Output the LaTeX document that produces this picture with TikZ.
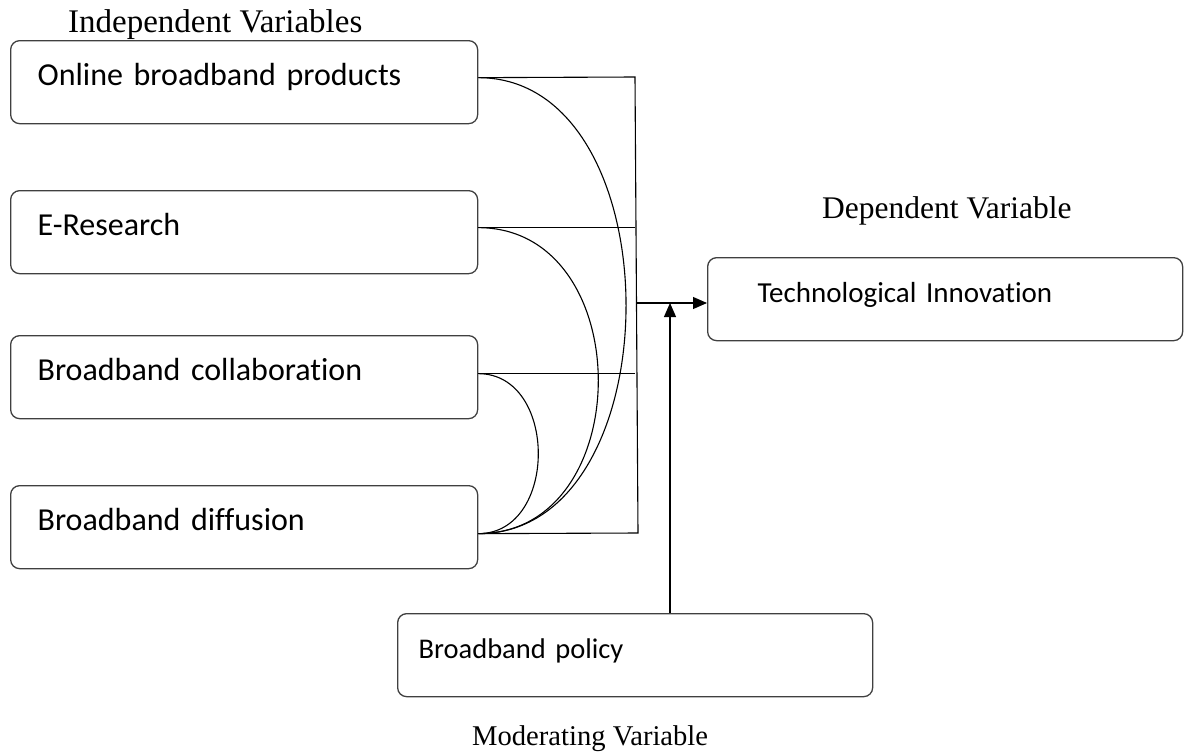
\documentclass[tikz,border=0pt]{standalone}
\usepackage{fontspec}
\setmainfont{Liberation Serif}
\newfontfamily\boxfont[Ligatures=NoCommon]{Carlito}
\usetikzlibrary{arrows.meta,calc}
\tikzset{
  x=1pt,y=-1pt,
  vbox/.style={draw=black!75,line width=1.3pt,rounded corners=9pt,minimum height=83pt,
    text height=22pt,text depth=15pt,align=left,
    anchor=north west,inner ysep=0pt},
  leftbox/.style={vbox,inner xsep=27pt,text width=413pt,font=\boxfont\fontsize{32}{36}\selectfont},
  lbl/.style={anchor=base west,inner sep=0pt},
  conn/.style={line width=1.1pt,black},
  arr/.style={conn,-{Triangle[length=14pt,width=12pt]}},
}
\begin{document}
\begin{tikzpicture}
\useasboundingbox (0,0) rectangle (1184,753);
% independent boxes
\node[leftbox] (b1) at (10,40) {Online broadband products};
\node[leftbox] (b2) at (10,190) {E-Research};
\node[leftbox] (b3) at (10,335) {Broadband collaboration};
\node[leftbox] (b4) at (10,485) {Broadband diffusion};
\node[vbox,inner xsep=50pt,text width=375pt,font=\boxfont\fontsize{29}{34}\selectfont] (tech) at (707,257) {Technological Innovation};
\node[vbox,inner xsep=21pt,text width=433pt,font=\boxfont\fontsize{28.5}{34}\selectfont] (pol) at (397,613) {Broadband policy};
% labels
\node[lbl,font=\fontsize{33}{36}\selectfont] (liv) at (68,32) {Independent Variables};
\node[lbl,font=\fontsize{31.5}{36}\selectfont] (ldv) at (822,218) {Dependent Variable};
\node[lbl,font=\fontsize{28.6}{32}\selectfont] (lmv) at (472,745) {Moderating Variable};
% junction coordinates
\coordinate (jt) at (635,77);
\coordinate (jb) at (638,533);
\coordinate (ja) at (636,303);
\coordinate (ma) at (670,303);
% horizontal links and vertical bar
\draw[conn] ([yshift=4.5pt]b1.east) -- (jt) -- (jb) -- ([yshift=-6.5pt]b4.east);
\draw[conn] ([yshift=4.5pt]b2.east) -- ([yshift=4.5pt]b2.east -| jt);
\draw[conn] ([yshift=3.5pt]b3.east) -- ([yshift=3.5pt]b3.east -| jt);
% curves
\draw[conn] ([yshift=4.5pt]b1.east) .. controls +(197,0) and +(197,0) .. ([yshift=-6.5pt]b4.east);
\draw[conn] ([yshift=4.5pt]b2.east) .. controls +(160,0) and +(160,0) .. ([yshift=-6.5pt]b4.east);
\draw[conn] ([yshift=3.5pt]b3.east) .. controls +(80,0) and +(80,0) .. ([yshift=-6.5pt]b4.east);
% arrows
\draw[arr] (ja) -- (ja -| tech.west);
\draw[arr] (ma |- pol.north) -- (ma);
\end{tikzpicture}
\end{document}
